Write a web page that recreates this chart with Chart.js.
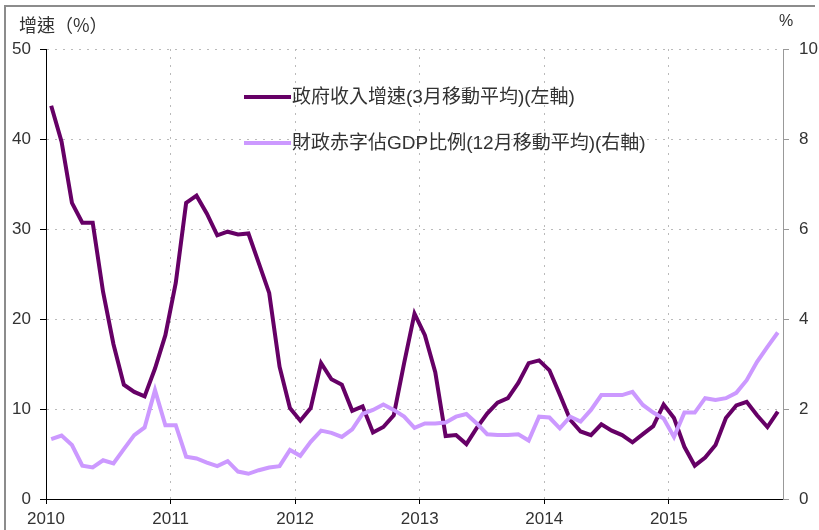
<!DOCTYPE html>
<html>
<head>
<meta charset="utf-8">
<script src="https://cdn.jsdelivr.net/npm/chart.js@4.4.1/dist/chart.umd.min.js"></script>
<style>
  html, body { margin: 0; padding: 0; background: #fff; }
  #wrap { position: relative; width: 819px; height: 530px; overflow: hidden; }
  #frame { position: absolute; left: 4px; top: 5px; width: 809px; height: 540px;
           border-top: 2px solid #8c8c8c; border-left: 2px solid #8c8c8c; }
  canvas { position: absolute; left: 0; top: 0; }
</style>
</head>
<body>
<div id="wrap">
  <div id="frame"></div>
  <canvas id="myChart" width="819" height="530"></canvas>
</div>
<script>
// monthly, Jan 2010 .. Nov 2015
const startYear = 2010;
const yearLabels = ['2010', '2011', '2012', '2013', '2014', '2015'];

// 政府收入增速(3月移動平均), left axis, %
const revenueGrowth = [
  43.7, 39.7, 32.9, 30.7, 30.7, 23.0, 17.2, 12.7, 11.9, 11.4, 14.5, 18.2,
  24.0, 32.9, 33.7, 31.7, 29.3, 29.7, 29.4, 29.5, 26.2, 22.9, 14.7, 10.1,
  8.7, 10.1, 15.1, 13.3, 12.7, 9.8, 10.3, 7.4, 8.0, 9.3, 15.1, 20.6,
  18.2, 14.1, 7.0, 7.1, 6.1, 7.9, 9.5, 10.7, 11.2, 12.9, 15.1, 15.4,
  14.3, 11.6, 8.8, 7.5, 7.1, 8.3, 7.6, 7.1, 6.3, 7.2, 8.1, 10.5,
  9.0, 5.8, 3.7, 4.6, 6.0, 9.0, 10.4, 10.8, 9.3, 8.0, 9.7
];

// 財政赤字佔GDP比例(12月移動平均), right axis, %
const deficitRatio = [
  1.33, 1.41, 1.20, 0.74, 0.70, 0.86, 0.79, 1.11, 1.42, 1.59, 2.42, 1.64,
  1.64, 0.94, 0.90, 0.81, 0.73, 0.84, 0.61, 0.56, 0.64, 0.70, 0.73, 1.09,
  0.96, 1.27, 1.52, 1.47, 1.38, 1.55, 1.89, 1.98, 2.10, 1.98, 1.83, 1.58,
  1.68, 1.68, 1.70, 1.83, 1.89, 1.68, 1.44, 1.42, 1.42, 1.44, 1.30, 1.83,
  1.81, 1.57, 1.83, 1.72, 1.98, 2.31, 2.31, 2.31, 2.38, 2.09, 1.92, 1.79,
  1.38, 1.92, 1.92, 2.24, 2.20, 2.24, 2.36, 2.64, 3.05, 3.38, 3.70
];

const seriesNames = ['政府收入增速(3月移動平均)(左軸)', '財政赤字佔GDP比例(12月移動平均)(右軸)'];
const leftTitle = '增速（%）';
const rightTitle = '%';

const DARK = '#660066';
const LIGHT = '#cc99ff';
const TICK_FONT = { family: '"Liberation Sans", Arial, sans-serif', size: 17 };
const CJK_FONT = '"Liberation Sans", Arial, "Noto Sans CJK TC", sans-serif';

// each month sits in the middle of its slot
const toPoints = arr => arr.map((v, i) => ({ x: i + 0.5, y: v }));
const nMonths = revenueGrowth.length;

// titles + legend drawn straight onto the canvas
const extras = {
  id: 'extras',
  afterDraw(chart) {
    const ctx = chart.ctx;
    ctx.save();
    ctx.fillStyle = '#333';
    ctx.textBaseline = 'middle';
    ctx.font = '18px "Noto Sans CJK TC", sans-serif';
    ctx.textAlign = 'left';
    ctx.fillText(leftTitle, 19, 25);
    ctx.font = '16px ' + CJK_FONT;
    ctx.textAlign = 'center';
    ctx.fillText(rightTitle, 786, 22);

    // legend
    ctx.textAlign = 'left';
    ctx.font = '19px ' + CJK_FONT;
    const rows = [97, 143];
    chart.data.datasets.forEach((ds, i) => {
      ctx.strokeStyle = ds.borderColor;
      ctx.lineWidth = 4;
      ctx.beginPath();
      ctx.moveTo(244, rows[i]);
      ctx.lineTo(291, rows[i]);
      ctx.stroke();
      ctx.fillStyle = '#333';
      ctx.fillText(ds.label, 292, rows[i] + 1);
    });
    ctx.restore();
  }
};

new Chart(document.getElementById('myChart'), {
  type: 'line',
  data: {
    datasets: [
      {
        label: seriesNames[0],
        data: toPoints(revenueGrowth),
        yAxisID: 'y',
        borderColor: DARK,
        borderWidth: 4,
        pointRadius: 0,
        tension: 0,
        order: 1
      },
      {
        label: seriesNames[1],
        data: toPoints(deficitRatio),
        yAxisID: 'y1',
        borderColor: LIGHT,
        borderWidth: 4,
        pointRadius: 0,
        tension: 0,
        order: 0
      }
    ]
  },
  options: {
    responsive: false,
    animation: false,
    layout: { padding: { top: 49, left: 0, right: 0, bottom: 0 } },
    plugins: { legend: { display: false }, tooltip: { enabled: false } },
    scales: {
      x: {
        type: 'linear',
        min: 0,
        max: nMonths,
        afterFit: s => { s.height = 31; },
        ticks: {
          stepSize: 12,
          includeBounds: false,
          autoSkip: false,
          maxRotation: 0,
          padding: 5,
          color: '#333',
          font: TICK_FONT,
          callback: v => yearLabels[v / 12] || String(startYear + v / 12)
        },
        grid: { color: '#bababa', tickColor: '#000', tickLength: 5 },
        border: { color: '#000', width: 1, dash: [2, 6] }
      },
      y: {
        position: 'left',
        min: 0,
        max: 50,
        afterFit: s => { s.width = 46; },
        ticks: { stepSize: 10, padding: 9, color: '#333', font: TICK_FONT },
        grid: { color: '#bababa', tickColor: '#000', tickLength: 6 },
        border: { color: '#000', width: 1, dash: [2, 6] }
      },
      y1: {
        position: 'right',
        min: 0,
        max: 10,
        afterFit: s => { s.width = 36; },
        ticks: { stepSize: 2, padding: 10, color: '#333', font: TICK_FONT },
        grid: { drawOnChartArea: false, tickColor: '#999', tickLength: 6 },
        border: { color: '#999', width: 1 }
      }
    }
  },
  plugins: [extras]
});
</script>
</body>
</html>
